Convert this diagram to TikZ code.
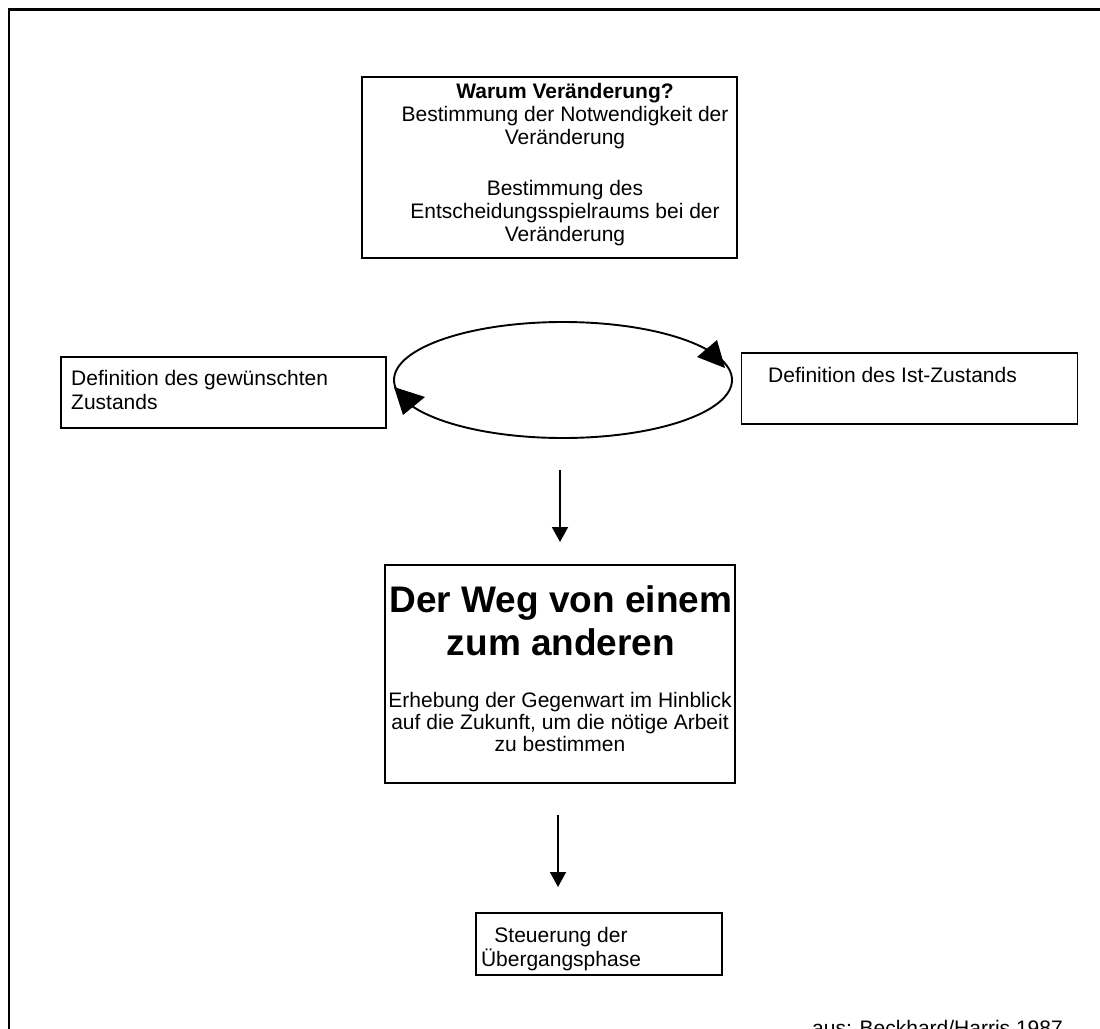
\documentclass[tikz,border=0pt]{standalone}
\usepackage{fontspec}
\setmainfont{Liberation Sans}
\usetikzlibrary{arrows.meta,shapes.geometric}
\begin{document}
\begin{tikzpicture}[x=1pt,y=-1pt,
  frame/.style={draw, line width=2.4pt},
  box/.style={draw, line width=1.9pt, inner sep=0pt},
  txt/.style={inner sep=0pt, font=\fontsize{21}{24}\selectfont},
  flow/.style={line width=1.9pt, -{Triangle[length=15pt,width=16pt]}},
  head/.style={fill=black}]

\useasboundingbox (0,0) rectangle (1100,1028);
\clip (0,0) rectangle (1100,1028);

% page frame (right and bottom sides run off the page)
\draw[frame] (9,9.5) rectangle (1120,1050);

% why change?
\node[box, minimum width=375pt, minimum height=181pt] (why) at (549.5,167.5) {};
\node[txt, font=\fontsize{21}{23}\selectfont, align=center] (whytext) at (565,165)
  {\textbf{Warum Veränderung?}\\Bestimmung der Notwendigkeit der\\Veränderung\\[28pt]Bestimmung des\\Entscheidungsspielraums bei der\\Veränderung};

% desired state and current state
\node[box, minimum width=325pt, minimum height=71pt] (soll) at (223.5,392.5) {};
\node[txt, align=left, anchor=west] (solltext) at (71,390)
  {Definition des gewünschten\\Zustands};
\node[box, minimum width=336pt, minimum height=71pt] (ist) at (909.5,388.5) {};
\node[txt, anchor=base west] (isttext) at (768,382) {Definition des Ist-Zustands};

% cycle between the two states
\node[draw, ellipse, line width=1.9pt, minimum width=338pt, minimum height=116pt] (cycle) at (563,380) {};
\fill[head] (725,368) -- (697,357) -- (717,340) -- cycle;
\fill[head] (394,387) -- (403,415) -- (425,397) -- cycle;

% the way from one to the other
\coordinate (d1a) at (560,470);
\coordinate (d1b) at (560,542);
\draw[flow] (d1a) -- (d1b);

\node[box, minimum width=350pt, minimum height=218pt] (weg) at (560,674) {};
\node[inner sep=0pt, font=\fontsize{37}{43}\selectfont\bfseries, align=center] (wegtitle) at (561,620.3)
  {Der Weg von einem\\zum anderen};
\node[txt, font=\fontsize{21}{22}\selectfont, align=center] (wegtext) at (560,722.4)
  {Erhebung der Gegenwart im Hinblick\\auf die Zukunft, um die nötige Arbeit\\zu bestimmen};

% transition management
\coordinate (d2a) at (558,815);
\coordinate (d2b) at (558,887);
\draw[flow] (d2a) -- (d2b);

\node[box, minimum width=246pt, minimum height=62pt] (steuer) at (599,944) {};
\node[txt, align=center] (steuertext) at (561,949.5) {Steuerung der\\Übergangsphase};

% source
\node[txt, anchor=base west] (quelle) at (812,1035) {aus: Beckhard/Harris 1987};
\end{tikzpicture}
\end{document}
